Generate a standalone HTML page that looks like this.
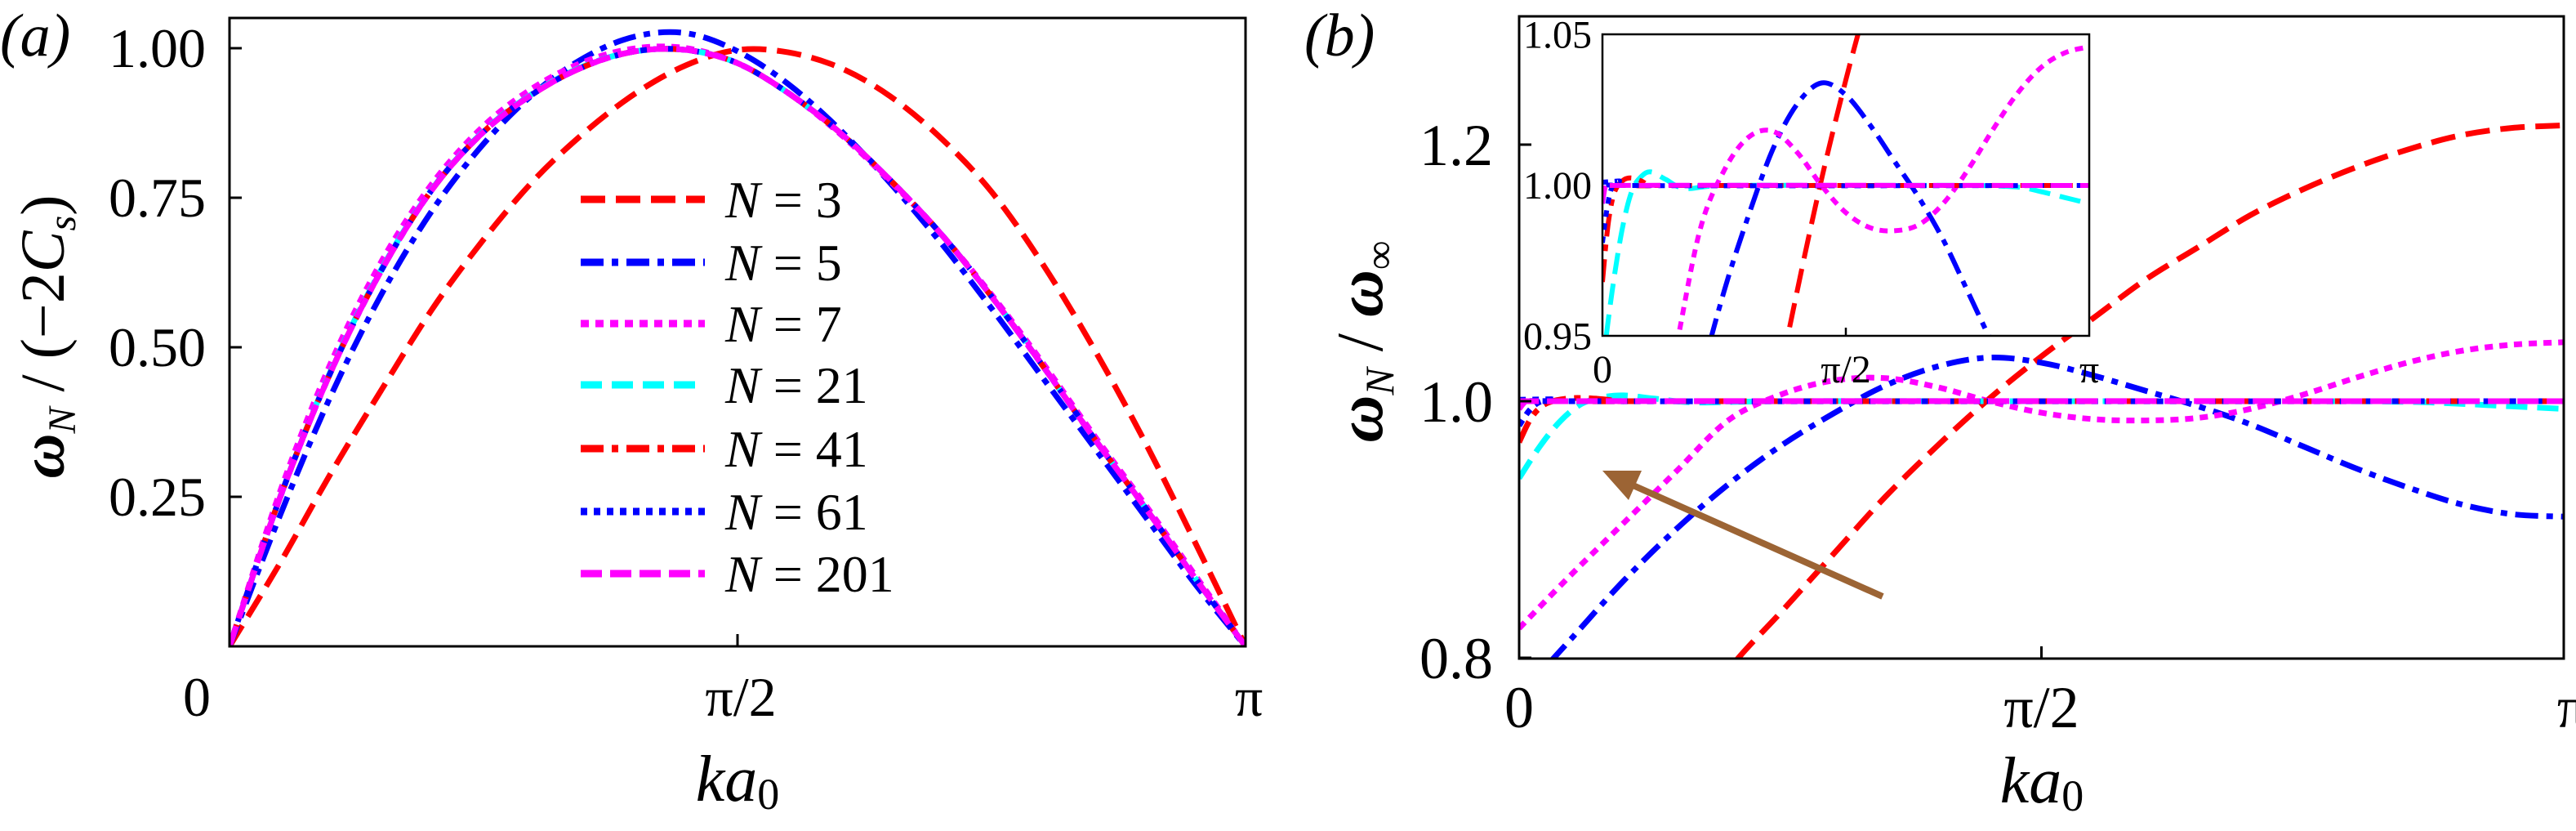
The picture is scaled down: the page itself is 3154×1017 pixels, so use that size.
<!DOCTYPE html>
<html><head><meta charset="utf-8"><style>
html,body{margin:0;padding:0;background:#fff;overflow:hidden;width:3154px;height:1017px;}
svg{display:block;}
text{font-family:"Liberation Serif",serif;}
</style></head><body>
<svg id="fig" width="3154" height="1017" viewBox="0 0 3154 1017" xmlns="http://www.w3.org/2000/svg" font-family="Liberation Serif, serif" overflow="hidden">
<g id="pa"></g>
<g id="pb"></g>
</svg>
<script>
// ---------- Panel (a) data ----------
const kA = [0,0.05,0.1,0.15,0.2,0.25,0.3,0.35,0.4,0.45,0.5,0.55,0.6,0.65,0.7,0.75,0.8,0.85,0.9,0.95,1];
const omega3 = [0,0.14,0.29,0.43,0.565,0.68,0.78,0.86,0.925,0.972,0.997,0.993,0.968,0.92,0.85,0.76,0.64,0.5,0.345,0.175,0];
const omega5 = [0,0.22,0.42,0.59,0.73,0.84,0.925,0.985,1.02,1.025,0.995,0.94,0.865,0.775,0.675,0.565,0.45,0.335,0.22,0.105,0];
const omega7 = [0,0.26,0.475,0.645,0.775,0.87,0.935,0.978,1.0,1.0,0.975,0.925,0.858,0.778,0.69,0.588,0.475,0.355,0.24,0.12,0];
const omega21 = [0,0.25,0.462,0.632,0.766,0.861,0.926,0.971,0.995,0.997,0.975,0.925,0.86,0.78,0.69,0.585,0.47,0.35,0.235,0.115,0];
const omega41 = [0,0.25,0.46,0.63,0.765,0.86,0.925,0.97,0.995,0.997,0.975,0.925,0.86,0.78,0.69,0.585,0.47,0.35,0.235,0.115,0];
const omega61 = [0,0.25,0.46,0.63,0.765,0.86,0.925,0.97,0.995,0.997,0.975,0.925,0.86,0.78,0.69,0.585,0.47,0.35,0.235,0.115,0];
const omega201 = [0,0.25,0.46,0.63,0.765,0.86,0.925,0.97,0.995,0.997,0.975,0.925,0.86,0.78,0.69,0.585,0.47,0.35,0.235,0.115,0];
const yTicksA = [0.25,0.5,0.75,1.0];
const yTickLabelsA = ["0.25","0.50","0.75","1.00"];
const legendLabels = ["N = 3","N = 5","N = 7","N = 21","N = 41","N = 61","N = 201"];

// ---------- Panel (b) data ----------
const kB = [0,0.05,0.1,0.15,0.2,0.25,0.3,0.35,0.4,0.45,0.5,0.55,0.6,0.65,0.7,0.75,0.8,0.85,0.9,0.95,1];
const ratio3 = [0.55,0.61,0.67,0.73,0.79,0.835,0.88,0.925,0.965,1.002,1.035,1.065,1.095,1.12,1.145,1.165,1.182,1.196,1.207,1.213,1.215];
const ratio5 = [0.77,0.815,0.86,0.9,0.935,0.965,0.99,1.012,1.027,1.034,1.03,1.02,1.008,0.996,0.982,0.965,0.948,0.933,0.92,0.912,0.91];
const ratio7 = [0.823,0.865,0.905,0.945,0.985,1.005,1.016,1.018,1.011,1.0,0.991,0.986,0.985,0.987,0.994,1.005,1.018,1.03,1.039,1.044,1.046];
const k21 = [0,0.02,0.04,0.06,0.08,0.1,0.13,0.17,0.25,0.5,0.75,0.85,0.9,0.95,1];
const ratio21 = [0.94,0.965,0.985,0.998,1.003,1.0045,1.002,0.999,1.0,1.0,1.0,0.9995,0.998,0.996,0.994];
const k41 = [0,0.01,0.02,0.03,0.045,0.06,0.08,0.1,0.15,1];
const ratio41 = [0.968,0.985,0.995,0.9995,1.002,1.0025,1.0015,1.0,1.0,1.0];
const k61 = [0,0.01,0.02,0.035,0.06,1];
const ratio61 = [0.981,0.993,0.9995,1.0015,1.0,1.0];
const k201 = [0,0.005,0.01,1];
const ratio201 = [0.994,0.999,1.0,1.0];
const yTicksB = [0.8,1.0,1.2];
const yTickLabelsB = ["0.8","1.0","1.2"];
const yTicksInset = [0.95,1.0,1.05];
const yTickLabelsInset = ["0.95","1.00","1.05"];
const xTicks = [0,0.5,1];
const xTickLabels = ["0","π/2","π"];

const NS="http://www.w3.org/2000/svg";
function mk(tag,attrs,parent){const e=document.createElementNS(NS,tag);for(const k in attrs)e.setAttribute(k,attrs[k]);parent.appendChild(e);return e;}

const styles=[
 {c:"#ff0000",d:"30 13"},
 {c:"#0000ff",d:"28 10 8 10"},
 {c:"#ff00ff",d:"10 8"},
 {c:"#00ffff",d:"26 12"},
 {c:"#ff0000",d:"28 10 8 10"},
 {c:"#0000ff",d:"8 8"},
 {c:"#ff00ff",d:"26 10"}
];
const names=["n3","n5","n7","n21","n41","n61","n201"];

function pathD(ks,vs,sx,sy){
 const P=ks.map((k,i)=>[sx(k),sy(vs[i])]);
 let d="M"+P[0][0].toFixed(1)+","+P[0][1].toFixed(1);
 for(let i=0;i<P.length-1;i++){
  const p0=P[Math.max(0,i-1)],p1=P[i],p2=P[i+1],p3=P[Math.min(P.length-1,i+2)];
  const c1=[p1[0]+(p2[0]-p0[0])/6,p1[1]+(p2[1]-p0[1])/6];
  const c2=[p2[0]-(p3[0]-p1[0])/6,p2[1]-(p3[1]-p1[1])/6];
  d+="C"+c1[0].toFixed(1)+","+c1[1].toFixed(1)+" "+c2[0].toFixed(1)+","+c2[1].toFixed(1)+" "+p2[0].toFixed(1)+","+p2[1].toFixed(1);
 }
 return d;
}
const SERIF='"Liberation Serif", serif';

// ================= Panel A =================
const pa=document.getElementById('pa');
const A={x0:281,x1:1525,y0:791,y1:22};
const sxA=k=>A.x0+k*(A.x1-A.x0);
const syA=v=>A.y0-v*(A.y0-59);
let cp=mk('clipPath',{id:'clipA'},pa);mk('rect',{x:A.x0,y:A.y1,width:A.x1-A.x0,height:A.y0-A.y1},cp);
const seriesA=[omega3,omega5,omega7,omega21,omega41,omega61,omega201];
const gA=mk('g',{'clip-path':'url(#clipA)'},pa);


seriesA.forEach((vs,i)=>{
 const p=mk('path',{d:pathD(kA,vs,sxA,syA),fill:'none',stroke:styles[i].c,'stroke-width':7,'stroke-dasharray':styles[i].d},gA);
 
 
});
let fr=mk('rect',{x:A.x0,y:A.y1,width:A.x1-A.x0,height:A.y0-A.y1,fill:'none',stroke:'#000','stroke-width':3},pa);


yTicksA.forEach((v,i)=>{
 const t=mk('line',{x1:A.x0,x2:A.x0+15,y1:syA(v),y2:syA(v),stroke:'#000','stroke-width':3},pa);
 
 
 const l=mk('text',{x:252,y:syA(v)+23,'text-anchor':'end','font-size':68,'font-family':SERIF},pa);
 l.textContent=yTickLabelsA[i];
 
 
});
xTicks.forEach((k,i)=>{
 if(k===0.5){const t=mk('line',{x1:sxA(k),x2:sxA(k),y1:A.y0,y2:A.y0-15,stroke:'#000','stroke-width':3},pa);
 
 }
 const l=mk('text',{x:(i===0?241:sxA(k)+4),y:876,'text-anchor':'middle','font-size':68,'font-family':SERIF},pa);
 l.textContent=xTickLabels[i];
 
 
});
const legRows=[244,321,396,471,549,626,702];
legendLabels.forEach((lab,i)=>{
 const g=mk('g',{},pa);
 
 
 mk('line',{x1:711,x2:863,y1:legRows[i],y2:legRows[i],stroke:styles[i].c,'stroke-width':9,'stroke-dasharray':styles[i].d},g);
 const t=mk('text',{x:888,y:legRows[i]+22,'font-size':64,'font-family':SERIF},g);
 const parts=lab.split(' = ');
 const s1=mk('tspan',{'font-style':'italic'},t);s1.textContent=parts[0];
 const s2=mk('tspan',{},t);s2.textContent=' = '+parts[1];
});
let la=mk('text',{x:0,y:68,'font-size':74,'font-style':'italic','font-family':SERIF},pa);la.textContent='(a)';

let yta=mk('text',{x:0,y:0,'font-size':76,'text-anchor':'middle','font-family':SERIF,transform:'translate(78,412) rotate(-90)'},pa);
yta.innerHTML='<tspan font-style="italic" font-weight="bold">ω</tspan><tspan font-style="italic" font-size="48" dy="14">N</tspan><tspan dy="-14"> / (−2</tspan><tspan font-style="italic">C</tspan><tspan font-style="italic" font-size="48" dy="14">s</tspan><tspan dy="-14">)</tspan>';

let xta=mk('text',{x:903,y:980,'font-size':80,'text-anchor':'middle','font-family':SERIF},pa);
xta.innerHTML='<tspan font-style="italic">ka</tspan><tspan font-size="54" dy="10">0</tspan>';


// ================= Panel B =================
const pb=document.getElementById('pb');
const B={x0:1860,x1:3139,y0:806,y1:20};
const sxB=k=>B.x0+k*(B.x1-B.x0);
const syB=v=>491-(v-1.0)*1570;
cp=mk('clipPath',{id:'clipB'},pb);mk('rect',{x:B.x0,y:B.y1,width:B.x1-B.x0,height:B.y0-B.y1},cp);
const seriesBk=[kB,kB,kB,k21,k41,k61,k201];
const seriesBv=[ratio3,ratio5,ratio7,ratio21,ratio41,ratio61,ratio201];
const gB=mk('g',{'clip-path':'url(#clipB)'},pb);


seriesBv.forEach((vs,i)=>{
 const p=mk('path',{d:pathD(seriesBk[i],vs,sxB,syB),fill:'none',stroke:styles[i].c,'stroke-width':7,'stroke-dasharray':styles[i].d},gB);
 
 
});
fr=mk('rect',{x:B.x0,y:B.y1,width:B.x1-B.x0,height:B.y0-B.y1,fill:'none',stroke:'#000','stroke-width':3},pb);


yTicksB.forEach((v,i)=>{
 const t=mk('line',{x1:B.x0,x2:B.x0+15,y1:syB(v),y2:syB(v),stroke:'#000','stroke-width':3},pb);
 
 
 const l=mk('text',{x:1828,y:syB(v)+25,'text-anchor':'end','font-size':72,'font-family':SERIF},pb);
 l.textContent=yTickLabelsB[i];
 
 
});
xTicks.forEach((k,i)=>{
 if(k===0.5){const t=mk('line',{x1:sxB(k),x2:sxB(k),y1:B.y0,y2:B.y0-15,stroke:'#000','stroke-width':3},pb);
 
 }
 const l=mk('text',{x:sxB(k)+(i===2?10:0),y:890,'text-anchor':'middle','font-size':72,'font-family':SERIF},pb);
 l.textContent=xTickLabels[i];
 
 
});
const arr=mk('g',{},pb);


mk('line',{x1:2305,y1:730,x2:1995,y2:592,stroke:'#9c6434','stroke-width':8},arr);
mk('polygon',{points:'1962,576 2010,576 1994,612',fill:'#9c6434'},arr);
const I={x0:1962,x1:2558,y0:411,y1:42};
const sxI=k=>I.x0+k*(I.x1-I.x0);
const syI=v=>227-(v-1.0)*3690;
const ins=mk('g',{},pb);


mk('rect',{x:I.x0,y:I.y1,width:I.x1-I.x0,height:I.y0-I.y1,fill:'#fff'},ins);
cp=mk('clipPath',{id:'clipI'},ins);mk('rect',{x:I.x0,y:I.y1,width:I.x1-I.x0,height:I.y0-I.y1},cp);
const gI=mk('g',{'clip-path':'url(#clipI)'},ins);
seriesBv.forEach((vs,i)=>{
 const p=mk('path',{d:pathD(seriesBk[i],vs,sxI,syI),fill:'none',stroke:styles[i].c,'stroke-width':6,'stroke-dasharray':styles[i].d},gI);
 
 
});
mk('rect',{x:I.x0,y:I.y1,width:I.x1-I.x0,height:I.y0-I.y1,fill:'none',stroke:'#000','stroke-width':2.5},ins);
yTicksInset.forEach((v,i)=>{
 const l=mk('text',{x:1949,y:syI(v)+16,'text-anchor':'end','font-size':48,'font-family':SERIF},ins);
 l.textContent=yTickLabelsInset[i];
 
 
});
xTicks.forEach((k,i)=>{
 if(k===0.5){mk('line',{x1:sxI(k),x2:sxI(k),y1:I.y0,y2:I.y0-10,stroke:'#000','stroke-width':2.5},ins);}
 const l=mk('text',{x:sxI(k),y:468,'text-anchor':'middle','font-size':48,'font-family':SERIF},ins);
 l.textContent=xTickLabels[i];
 
 
});
let lb=mk('text',{x:1597,y:68,'font-size':74,'font-style':'italic','font-family':SERIF},pb);lb.textContent='(b)';

let ytb=mk('text',{x:0,y:0,'font-size':80,'text-anchor':'middle','font-family':SERIF,transform:'translate(1692,418) rotate(-90)'},pb);
ytb.innerHTML='<tspan font-style="italic" font-weight="bold">ω</tspan><tspan font-style="italic" font-size="50" dy="14">N</tspan><tspan dy="-14"> / </tspan><tspan font-style="italic" font-weight="bold">ω</tspan><tspan font-size="50" dy="14">∞</tspan>';

let xtb=mk('text',{x:2500,y:982,'font-size':80,'text-anchor':'middle','font-family':SERIF},pb);
xtb.innerHTML='<tspan font-style="italic">ka</tspan><tspan font-size="54" dy="10">0</tspan>';

</script>
</body></html>
